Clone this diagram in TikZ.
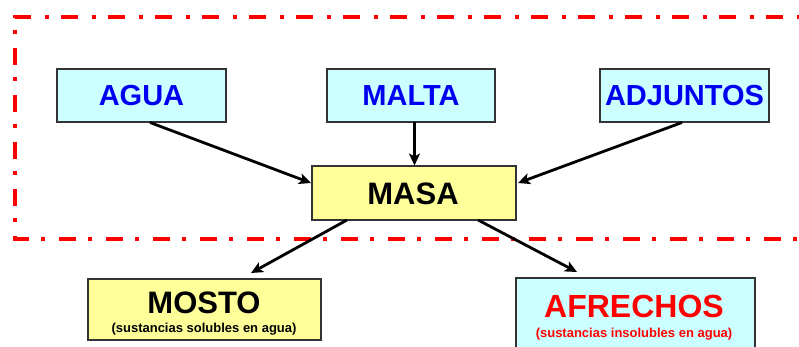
\documentclass[tikz,border=0pt]{standalone}
\usepackage{fontspec}
\setmainfont{Liberation Sans}
\usetikzlibrary{arrows.meta}
\definecolor{boxcyan}{HTML}{CCFFFF}
\definecolor{boxyellow}{HTML}{FFFF99}
\definecolor{txtblue}{HTML}{0000F0}
\definecolor{frame}{HTML}{333333}
\begin{document}
\begin{tikzpicture}[x=1pt,y=-1pt,
  box/.style={draw=frame,line width=1.3pt,inner sep=0pt},
  cyanbox/.style={box,fill=boxcyan},
  yellowbox/.style={box,fill=boxyellow},
  bigtxt/.style={font=\fontsize{29}{29}\selectfont\bfseries},
  lowtxt/.style={font=\fontsize{31}{31}\selectfont\bfseries},
  subtxt/.style={font=\fontsize{13}{13}\selectfont\bfseries},
  arr/.style={line width=2.8pt,-{Stealth[length=12pt,width=11pt,inset=3pt]}},
  zone/.style={draw=red,line width=4pt,dash pattern=on 17pt off 12pt on 4pt off 14pt}]
\useasboundingbox (0,0) rectangle (799,347);
% dashed zone
\draw[zone] (830,17) -- (15,17) -- (15,239) -- (830,239);
% boxes
\node[cyanbox,minimum width=169pt,minimum height=53pt] (agua) at (141.5,95.5) {};
\node[bigtxt,text=txtblue] (aguat) at (agua.center) {AGUA};
\node[cyanbox,minimum width=168pt,minimum height=53pt] (malta) at (411,95.5) {};
\node[bigtxt,text=txtblue] (maltat) at (malta.center) {MALTA};
\node[cyanbox,minimum width=169pt,minimum height=53pt] (adj) at (684.5,95.5) {};
\node[bigtxt,text=txtblue] (adjt) at (adj.center) {ADJUNTOS};
\node[yellowbox,minimum width=204pt,minimum height=54pt] (masa) at (414,193) {};
\node[lowtxt,text=black] (masat) at (413,193.5) {MASA};
\node[yellowbox,minimum width=233pt,minimum height=61pt] (mosto) at (204.5,309.5) {};
\node[lowtxt,text=black] (mostot) at (204,302.5) {MOSTO};
\node[subtxt] (mostos) at (204,329) {(sustancias solubles en agua)};
\node[cyanbox,minimum width=239pt,minimum height=80pt] (afr) at (635.5,318) {};
\node[lowtxt,font=\fontsize{32}{32}\selectfont\bfseries,text=red] (afrt) at (634,306) {AFRECHOS};
\node[subtxt,text=red] (afrs) at (634,334) {(sustancias insolubles en agua)};
% arrows
\coordinate (a1) at (150,122.5);
\coordinate (a2) at (311,183);
\coordinate (m1) at (414.5,122.5);
\coordinate (m2) at (414.5,165.5);
\coordinate (d1) at (682,122.5);
\coordinate (d2) at (518,183);
\coordinate (o1) at (347,220);
\coordinate (o2) at (251,273);
\coordinate (f1) at (478,220);
\coordinate (f2) at (577,272);
\draw[arr] (a1) -- (a2);
\draw[arr] (m1) -- (m2);
\draw[arr] (d1) -- (d2);
\draw[arr] (o1) -- (o2);
\draw[arr] (f1) -- (f2);
\end{tikzpicture}
\end{document}
